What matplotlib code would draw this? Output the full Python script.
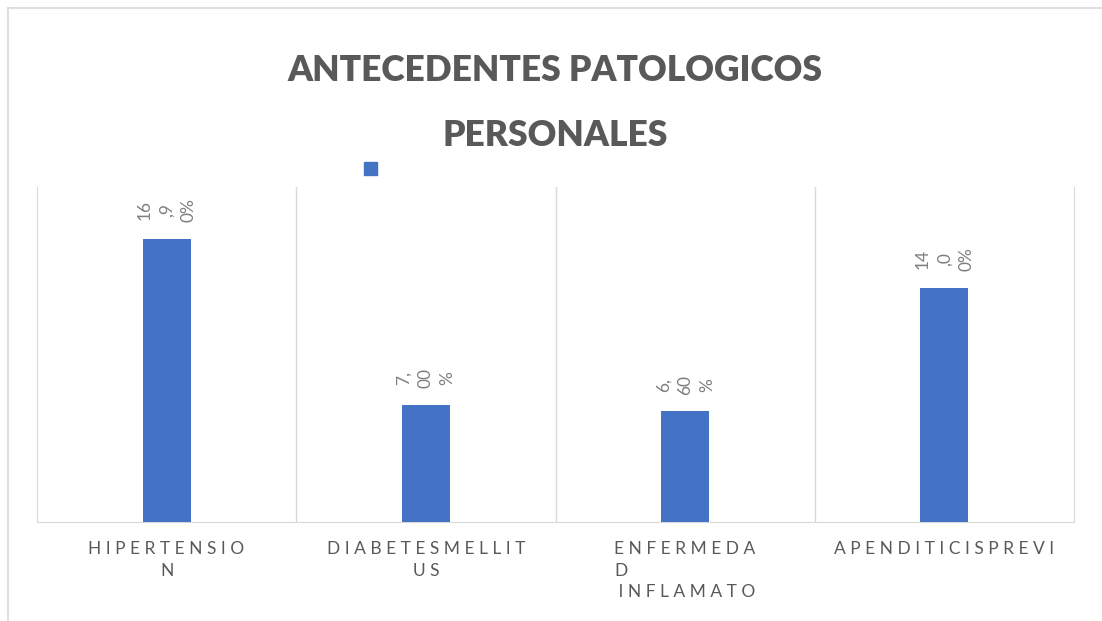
import matplotlib.pyplot as plt
from matplotlib.patches import Patch

# datos
categorias = ["HIPERTENSIO\nN", "DIABETESMELLIT\nUS", "ENFERMEDA\nD\n INFLAMATO", "APENDITICISPREVI"]
valores = [16.9, 7.0, 6.6, 14.0]
etiquetas = ["16\n,9\n0%", "7,\n00\n%", "6,\n60\n%", "14\n,0\n0%"]

AZUL = "#4472C4"
GRIS = "#595959"
GRIS_CLARO = "#D9D9D9"


def espaciar(texto):
    # letras separadas como en el grafico original
    lineas = []
    for linea in texto.split("\n"):
        prefijo = " " if linea.startswith(" ") else ""
        lineas.append(prefijo + " ".join(linea.strip()))
    return "\n".join(lineas)


plt.rcParams["font.family"] = ["Lato", "DejaVu Sans"]

fig = plt.figure(figsize=(11.02, 6.21), dpi=100)
ax = fig.add_axes([37/1102, 1 - 522/621, (1074 - 37)/1102, (522 - 187)/621])

x = range(len(valores))
ax.bar(x, valores, width=0.185, color=AZUL, zorder=3)

ax.set_xlim(-0.5, len(valores) - 0.5)
ax.set_ylim(0, 20)
ax.set_yticks([])
ax.set_xticks(list(x))
ax.set_xticklabels([espaciar(c) for c in categorias], fontsize=12.5, color=GRIS,
                   linespacing=1.4, va="top")
ax.tick_params(axis="x", length=0, pad=14)
# la tercera etiqueta va alineada a la izquierda
ax.get_xticklabels()[2].set_multialignment("left")

for i in range(len(valores) - 1):
    ax.axvline(i + 0.5, color=GRIS_CLARO, lw=1, zorder=1)
for lado in ["left", "right", "bottom"]:
    ax.spines[lado].set_color(GRIS_CLARO)
ax.spines["top"].set_visible(False)

# etiquetas de datos giradas
for xi, v, et in zip(x, valores, etiquetas):
    ax.annotate(et, (xi, v), xytext=(0, 12), textcoords="offset points",
                rotation=90, ha="center", va="bottom", fontsize=12.5,
                color="#7F7F7F", linespacing=1.45, multialignment="center")

# titulo
fig.text(555/1102, 1 - 103/621, "ANTECEDENTES PATOLOGICOS\nPERSONALES",
         ha="center", va="center", fontsize=25.5, fontweight="heavy", color=GRIS,
         linespacing=2.15)

# leyenda sin texto
ax.legend(handles=[Patch(color=AZUL)], labels=[""], loc="center",
          bbox_to_anchor=(377/1102, 1 - 169/621), bbox_transform=fig.transFigure,
          frameon=False, handlelength=0.8, handleheight=0.8, fontsize=12)

# borde del grafico
fig.add_artist(plt.Line2D([8/1102, 8/1102], [0, 1 - 8/621], color=GRIS_CLARO, lw=1.2))
fig.add_artist(plt.Line2D([8/1102, 1], [1 - 8/621, 1 - 8/621], color=GRIS_CLARO, lw=1.2))

fig.savefig("out.png", dpi=100)
